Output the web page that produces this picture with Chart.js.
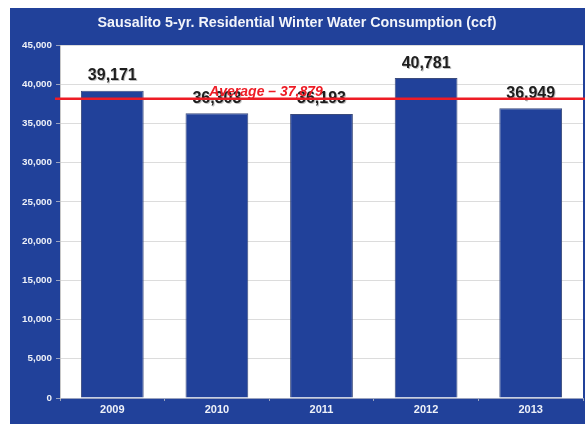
<!DOCTYPE html>
<html>
<head>
<meta charset="utf-8">
<script src="https://cdn.jsdelivr.net/npm/chart.js@4"></script>
<style>
  body { margin: 0; background: #ffffff; }
  canvas { display: block; }
</style>
</head>
<body>
<canvas id="grafico" width="585" height="424"></canvas>
<script>
const anos = ['2009', '2010', '2011', '2012', '2013'];
const consumo = [39171, 36303, 36193, 40781, 36949];
const media = 37879;
const tituloTexto = 'Sausalito 5-yr. Residential Winter Water Consumption (ccf)';
const mediaTexto = 'Average \u2013 37,879';

const azul = '#21419a';
const fmt = v => v.toLocaleString('en-US');

// fundo azul + area do grafico branca + titulo
const fundo = {
    id: 'fundo',
    beforeDraw(chart) {
        const ctx = chart.ctx;
        const a = chart.chartArea;
        ctx.save();
        ctx.fillStyle = '#ffffff';
        ctx.fillRect(0, 0, chart.width, chart.height);
        ctx.fillStyle = azul;
        ctx.fillRect(10, 8, chart.width - 10, chart.height - 8);
        ctx.fillStyle = '#ffffff';
        ctx.fillRect(a.left, a.top, a.right - a.left, a.bottom - a.top);
        ctx.font = 'bold 14.3px "Liberation Sans", Arial, sans-serif';
        ctx.fillStyle = '#f2f4fa';
        ctx.textAlign = 'center';
        ctx.textBaseline = 'middle';
        ctx.fillText(tituloTexto, 297, 23);
        ctx.restore();
    }
};

// linha da media e rotulos das barras
const extras = {
    id: 'extras',
    afterDatasetsDraw(chart) {
        const ctx = chart.ctx;
        const y = chart.scales.y;
        const meta = chart.getDatasetMeta(0);
        ctx.save();
        ctx.font = 'bold 16px "Liberation Sans", Arial, sans-serif';
        ctx.textAlign = 'center';
        ctx.textBaseline = 'bottom';
        meta.data.forEach((bar, i) => {
            ctx.fillStyle = 'rgba(0,0,0,0.25)';
            ctx.fillText(fmt(consumo[i]), bar.x + 1, bar.y - 6);
            ctx.fillStyle = '#1e1e1e';
            ctx.fillText(fmt(consumo[i]), bar.x, bar.y - 7);
        });
        const ly = y.getPixelForValue(media) - 2;
        ctx.strokeStyle = '#ee1c25';
        ctx.lineWidth = 2.5;
        ctx.beginPath();
        ctx.moveTo(55, ly);
        ctx.lineTo(chart.width, ly);
        ctx.stroke();
        ctx.font = 'italic bold 14px "Liberation Sans", Arial, sans-serif';
        ctx.fillStyle = '#ee1c25';
        ctx.textBaseline = 'alphabetic';
        ctx.fillText(mediaTexto, 266, ly - 3);
        ctx.restore();
    }
};

const config = {
    type: 'bar',
    data: {
        labels: anos,
        datasets: [{
            label: 'Consumo',
            data: consumo,
            backgroundColor: azul,
            borderColor: '#3b4b7c',
            borderWidth: 1,
            categoryPercentage: 1,
            barPercentage: 0.6
        }]
    },
    options: {
        responsive: false,
        animation: false,
        layout: {
            padding: { left: 10, right: 2, top: 45, bottom: 0 }
        },
        plugins: {
            legend: { display: false },
            title: { display: false },
            tooltip: { enabled: false }
        },
        scales: {
            x: {
                grid: {
                    drawOnChartArea: false,
                    offset: true,
                    color: '#9aa3bf',
                    tickLength: 3
                },
                border: { color: '#9aa3bf' },
                ticks: {
                    color: '#eef1f8',
                    font: { size: 11, weight: 'bold', family: '"Liberation Sans", Arial, sans-serif' },
                    padding: 2
                },
                afterFit(scale) { scale.height = 26; }
            },
            y: {
                min: 0,
                max: 45000,
                grid: {
                    color: '#dcdcdc',
                    tickColor: '#9aa3bf',
                    tickLength: 4
                },
                border: { color: '#c8c8c8' },
                ticks: {
                    stepSize: 5000,
                    color: '#eef1f8',
                    font: { size: 9.8, weight: 'bold', family: '"Liberation Sans", Arial, sans-serif' },
                    padding: 4,
                    callback: v => fmt(v)
                },
                afterFit(scale) { scale.width = 50; }
            }
        }
    },
    plugins: [fundo, extras]
};

const grafico = new Chart(document.getElementById('grafico'), config);
</script>
</body>
</html>
